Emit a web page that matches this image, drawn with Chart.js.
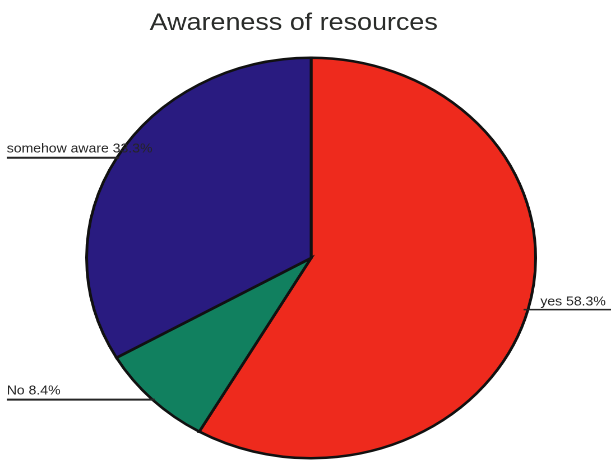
<!DOCTYPE html>
<html>
<head>
<meta charset="utf-8">
<title>Awareness of resources</title>
<script src="https://cdn.jsdelivr.net/npm/chart.js@4/dist/chart.umd.min.js"></script>
<style>
    html, body { margin: 0; padding: 0; background: #fff; overflow: hidden; }
    /* the original picture is stretched sideways, so the whole chart is widened */
    #wrap { width: 545px; height: 460px; transform: scaleX(1.1211); transform-origin: 0 0; }
</style>
</head>
<body>
<div id="wrap"><canvas id="pieChart" width="545" height="460"></canvas></div>
<script>
// Pie data
const categories = ['yes', 'No', 'somehow aware'];
const shares = [58.3, 8.4, 33.3];
const chartTitle = 'Awareness of resources';

const sliceColors = ['#ee2a1d', '#11805f', '#291b80'];

// Title drawn by hand so it can sit a bit left of the pie centre, like the original
const titlePlugin = {
    id: 'plainTitle',
    afterDraw(chart) {
        const ctx = chart.ctx;
        ctx.save();
        ctx.font = '24px "Liberation Sans", Arial, sans-serif';
        ctx.fillStyle = '#2a2c2a';
        ctx.textAlign = 'center';
        ctx.textBaseline = 'alphabetic';
        ctx.fillText(chartTitle, 262, 30);
        ctx.restore();
    }
};

// Slice labels on a horizontal leader line running out to the edge
const sliceLabels = {
    id: 'sliceLabels',
    afterDatasetsDraw(chart) {
        const ctx = chart.ctx;
        const meta = chart.getDatasetMeta(0);
        ctx.save();
        ctx.font = '12.5px "Liberation Sans", Arial, sans-serif';
        ctx.fillStyle = '#262626';
        ctx.strokeStyle = '#262626';
        ctx.textBaseline = 'alphabetic';
        meta.data.forEach((arc, i) => {
            const p = arc.getProps(['x', 'y', 'startAngle', 'endAngle', 'outerRadius'], true);
            const mid = (p.startAngle + p.endAngle) / 2;
            const px = p.x + Math.cos(mid) * p.outerRadius;
            const py = p.y + Math.sin(mid) * p.outerRadius;
            const text = categories[i] + ' ' + shares[i].toFixed(1) + '%';
            ctx.beginPath();
            ctx.textAlign = 'left';
            if (Math.cos(mid) > 0) {
                ctx.lineWidth = 1.6;
                ctx.moveTo(px - 4, py);
                ctx.lineTo(chart.width, py);
                ctx.stroke();
                ctx.fillText(text, px + 11, py - 4);
            } else {
                ctx.lineWidth = 2;
                ctx.moveTo(6, py);
                ctx.lineTo(px + 2, py);
                ctx.stroke();
                ctx.fillText(text, 6, py - 5);
            }
        });
        ctx.restore();
    }
};

new Chart(document.getElementById('pieChart'), {
    type: 'pie',
    data: {
        labels: categories,
        datasets: [{
            data: shares,
            backgroundColor: sliceColors,
            borderColor: '#111',
            borderWidth: 2.5,
            borderJoinStyle: 'miter',
            borderAlign: 'center'
        }]
    },
    options: {
        responsive: false,
        animation: false,
        devicePixelRatio: 2,
        layout: {
            padding: { top: 56, bottom: 0, left: 76, right: 66 }
        },
        plugins: {
            legend: { display: false },
            title: { display: false },
            tooltip: { enabled: false }
        }
    },
    plugins: [sliceLabels, titlePlugin]
});
</script>
</body>
</html>
